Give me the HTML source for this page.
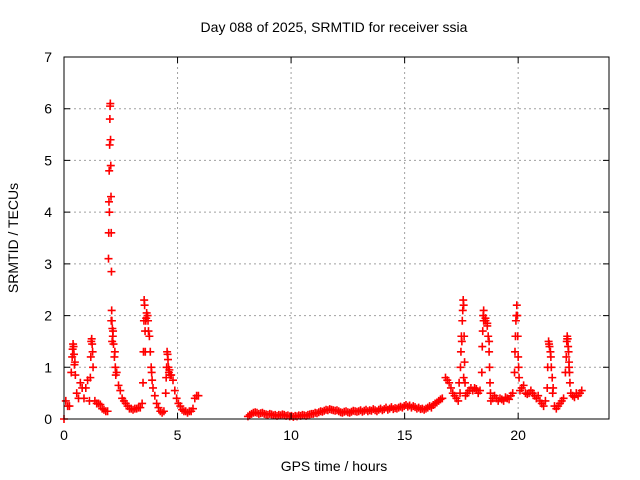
<!DOCTYPE html>
<html><head><meta charset="utf-8"><style>
body{margin:0;background:#fff;}
svg{display:block;font-family:"Liberation Sans",sans-serif;}
</style></head><body>
<svg id="chart" width="640" height="480">
<rect x="0" y="0" width="640" height="480" fill="#fff"/>
<g id="grid"></g>
<g id="marks"></g>
<g id="axes"></g>
<text x="334" y="32" font-size="14" text-anchor="middle" fill="#000">Day 088 of 2025, SRMTID for receiver ssia</text>
<text x="334" y="471" font-size="14" text-anchor="middle" fill="#000">GPS time / hours</text>
<text x="18" y="238" font-size="14" text-anchor="middle" fill="#000" transform="rotate(-90 18 238)">SRMTID / TECUs</text>
</svg>
<script>
const xTicks=[0,5,10,15,20];
const yTicks=[0,1,2,3,4,5,6,7];
const segStarts=[0,8.1,16.8];
const sampleStep=0.08;
const seg1Values=[0,0.35,0.25,0.25,0.9,1.45,1.1,0.5,0.4,0.7,0.6,0.4,0.6,0.75,0.35,1.5,1.0,0.35,0.3,0.3,0.28,0.2,0.18,0.15,0.15,4.0,1.9,1.7,1.3,0.9,0.65,0.55,0.4,0.35,0.3,0.25,0.2,0.2,0.18,0.2,0.2,0.22,0.22,0.3,1.9,1.9,2.0,1.6,1.0,0.6,0.45,0.3,0.22,0.15,0.12,0.15,0.5,1.25,0.95,0.85,0.75,0.55,0.4,0.3,0.25,0.18,0.15,0.15,0.12,0.15,0.15,0.2,0.4,0.45,0.45];
const seg2Values=[0.05,0.08,0.1,0.12,0.13,0.12,0.1,0.11,0.12,0.1,0.09,0.08,0.1,0.09,0.07,0.08,0.06,0.08,0.07,0.09,0.08,0.06,0.07,0.05,0.06,0.04,0.06,0.05,0.07,0.06,0.08,0.07,0.06,0.08,0.09,0.1,0.1,0.12,0.11,0.13,0.15,0.14,0.16,0.18,0.17,0.19,0.18,0.17,0.16,0.17,0.15,0.13,0.12,0.14,0.15,0.13,0.12,0.14,0.16,0.15,0.14,0.15,0.17,0.14,0.16,0.18,0.15,0.17,0.16,0.19,0.17,0.15,0.18,0.2,0.17,0.19,0.22,0.18,0.2,0.23,0.19,0.21,0.2,0.22,0.24,0.22,0.25,0.27,0.24,0.26,0.22,0.25,0.23,0.2,0.22,0.19,0.2,0.18,0.2,0.22,0.25,0.22,0.27,0.3,0.32,0.35,0.38,0.4];
const seg3Values=[0.8,0.75,0.7,0.6,0.5,0.45,0.4,0.35,0.5,1.5,0.8,0.45,0.5,0.55,0.6,0.55,0.6,0.58,0.5,0.55,0.9,1.9,1.9,1.85,1.5,0.35,0.4,0.45,0.4,0.35,0.4,0.38,0.35,0.42,0.4,0.38,0.45,0.5,0.9,2.0,1.2,0.55,0.6,0.65,0.5,0.48,0.5,0.55,0.5,0.45,0.4,0.45,0.35,0.3,0.25,0.35,0.6,1.45,1.2,0.5,0.25,0.2,0.25,0.3,0.35,0.4,0.9,1.55,1.0,0.5,0.45,0.42,0.5,0.45,0.5,0.55];
const spikeTimes=[0.36,0.38,0.42,0.44,0.46,0.5,1.16,1.18,1.22,1.24,1.26,1.96,1.97,1.98,1.99,2.01,2.02,2.03,2.04,2.05,2.06,2.07,2.08,2.09,2.1,2.11,2.12,2.13,2.15,2.18,2.22,2.26,2.28,3.48,3.5,3.53,3.55,3.57,3.58,3.62,3.64,3.7,3.72,3.8,3.86,3.88,4.5,4.52,4.54,4.58,4.6,4.62,4.68,17.4,17.46,17.48,17.5,17.54,17.56,17.58,17.6,17.62,17.64,17.66,18.42,18.44,18.46,18.48,18.56,18.64,18.68,18.72,18.74,18.76,18.78,19.86,19.88,19.9,19.94,19.96,19.98,20.02,20.04,21.3,21.34,21.38,21.42,21.46,21.5,21.54,22.12,22.14,22.16,22.18,22.2,22.22,22.24,22.26,22.28];
const spikeValues=[1.2,1.35,1.4,1.25,1.05,0.85,0.8,1.2,1.55,1.45,1.3,3.1,3.6,4.2,4.8,5.3,5.8,6.05,6.1,5.4,4.9,4.3,3.6,2.85,2.1,1.9,1.5,1.75,1.6,1.45,1.2,1.0,0.85,0.7,1.3,2.3,2.2,1.7,1.3,1.95,2.05,1.9,1.7,1.3,0.9,0.75,0.8,1.0,1.3,1.15,1.0,0.9,0.85,0.7,1.0,1.3,1.6,1.9,2.1,2.3,2.2,1.6,1.1,0.7,1.4,1.7,2.0,2.1,1.95,1.8,1.6,1.3,1.0,0.7,0.5,1.3,1.6,1.9,2.2,2.0,1.6,1.0,0.8,1.0,1.5,1.4,1.3,1.0,0.8,0.6,1.2,1.5,1.6,1.55,1.4,1.3,1.1,0.9,0.7];
const X0=64,X1=609,Y0=419,Y1=57,XMAX=24,YMAX=7;
const sx=v=>X0+(X1-X0)*v/XMAX;
const sy=v=>Y0-(Y0-Y1)*v/YMAX;
const NS="http://www.w3.org/2000/svg";
const grid=document.getElementById('grid'),axes=document.getElementById('axes'),marks=document.getElementById('marks');
function mk(tag,attrs,parent){const e=document.createElementNS(NS,tag);for(const k in attrs)e.setAttribute(k,attrs[k]);parent.appendChild(e);return e;}
xTicks.forEach(t=>{const x=sx(t);
 if(t>0){const g=mk('line',{x1:x,y1:Y0,x2:x,y2:Y1,stroke:'#a0a0a0','stroke-dasharray':'2,3','stroke-width':1},grid);
 
 }
 const l=mk('path',{d:`M${x} ${Y0}v-6M${x} ${Y1}v6`,stroke:'#000','stroke-width':1},axes);
 
 
 const tx=mk('text',{x:x,y:Y0+21,'font-size':14,'text-anchor':'middle',fill:'#000'},axes);tx.textContent=t;
 
 
});
yTicks.forEach(t=>{const y=sy(t);
 if(t>0&&t<7){const g=mk('line',{x1:X0,y1:y,x2:X1,y2:y,stroke:'#a0a0a0','stroke-dasharray':'2,3','stroke-width':1},grid);
 
 }
 const l=mk('path',{d:`M${X0} ${y}h6M${X1} ${y}h-6`,stroke:'#000','stroke-width':1},axes);
 
 
 const tx=mk('text',{x:X0-12,y:y+5,'font-size':14,'text-anchor':'end',fill:'#000'},axes);tx.textContent=t;
 
 
});
const fr=mk('rect',{x:X0,y:Y1,width:X1-X0,height:Y0-Y1,fill:'none',stroke:'#000','stroke-width':1},axes);


function plus(t,v){const x=sx(t),y=sy(v);
 const p=mk('path',{d:`M${x-4} ${y}h8M${x} ${y-4}v8`,stroke:'#ff0000','stroke-width':1.6},marks);
 
 
}
[seg1Values,seg2Values,seg3Values].forEach((vals,s)=>{vals.forEach((v,i)=>plus(segStarts[s]+i*sampleStep,v));});
spikeTimes.forEach((t,i)=>plus(t,spikeValues[i]));
</script>
</body></html>
